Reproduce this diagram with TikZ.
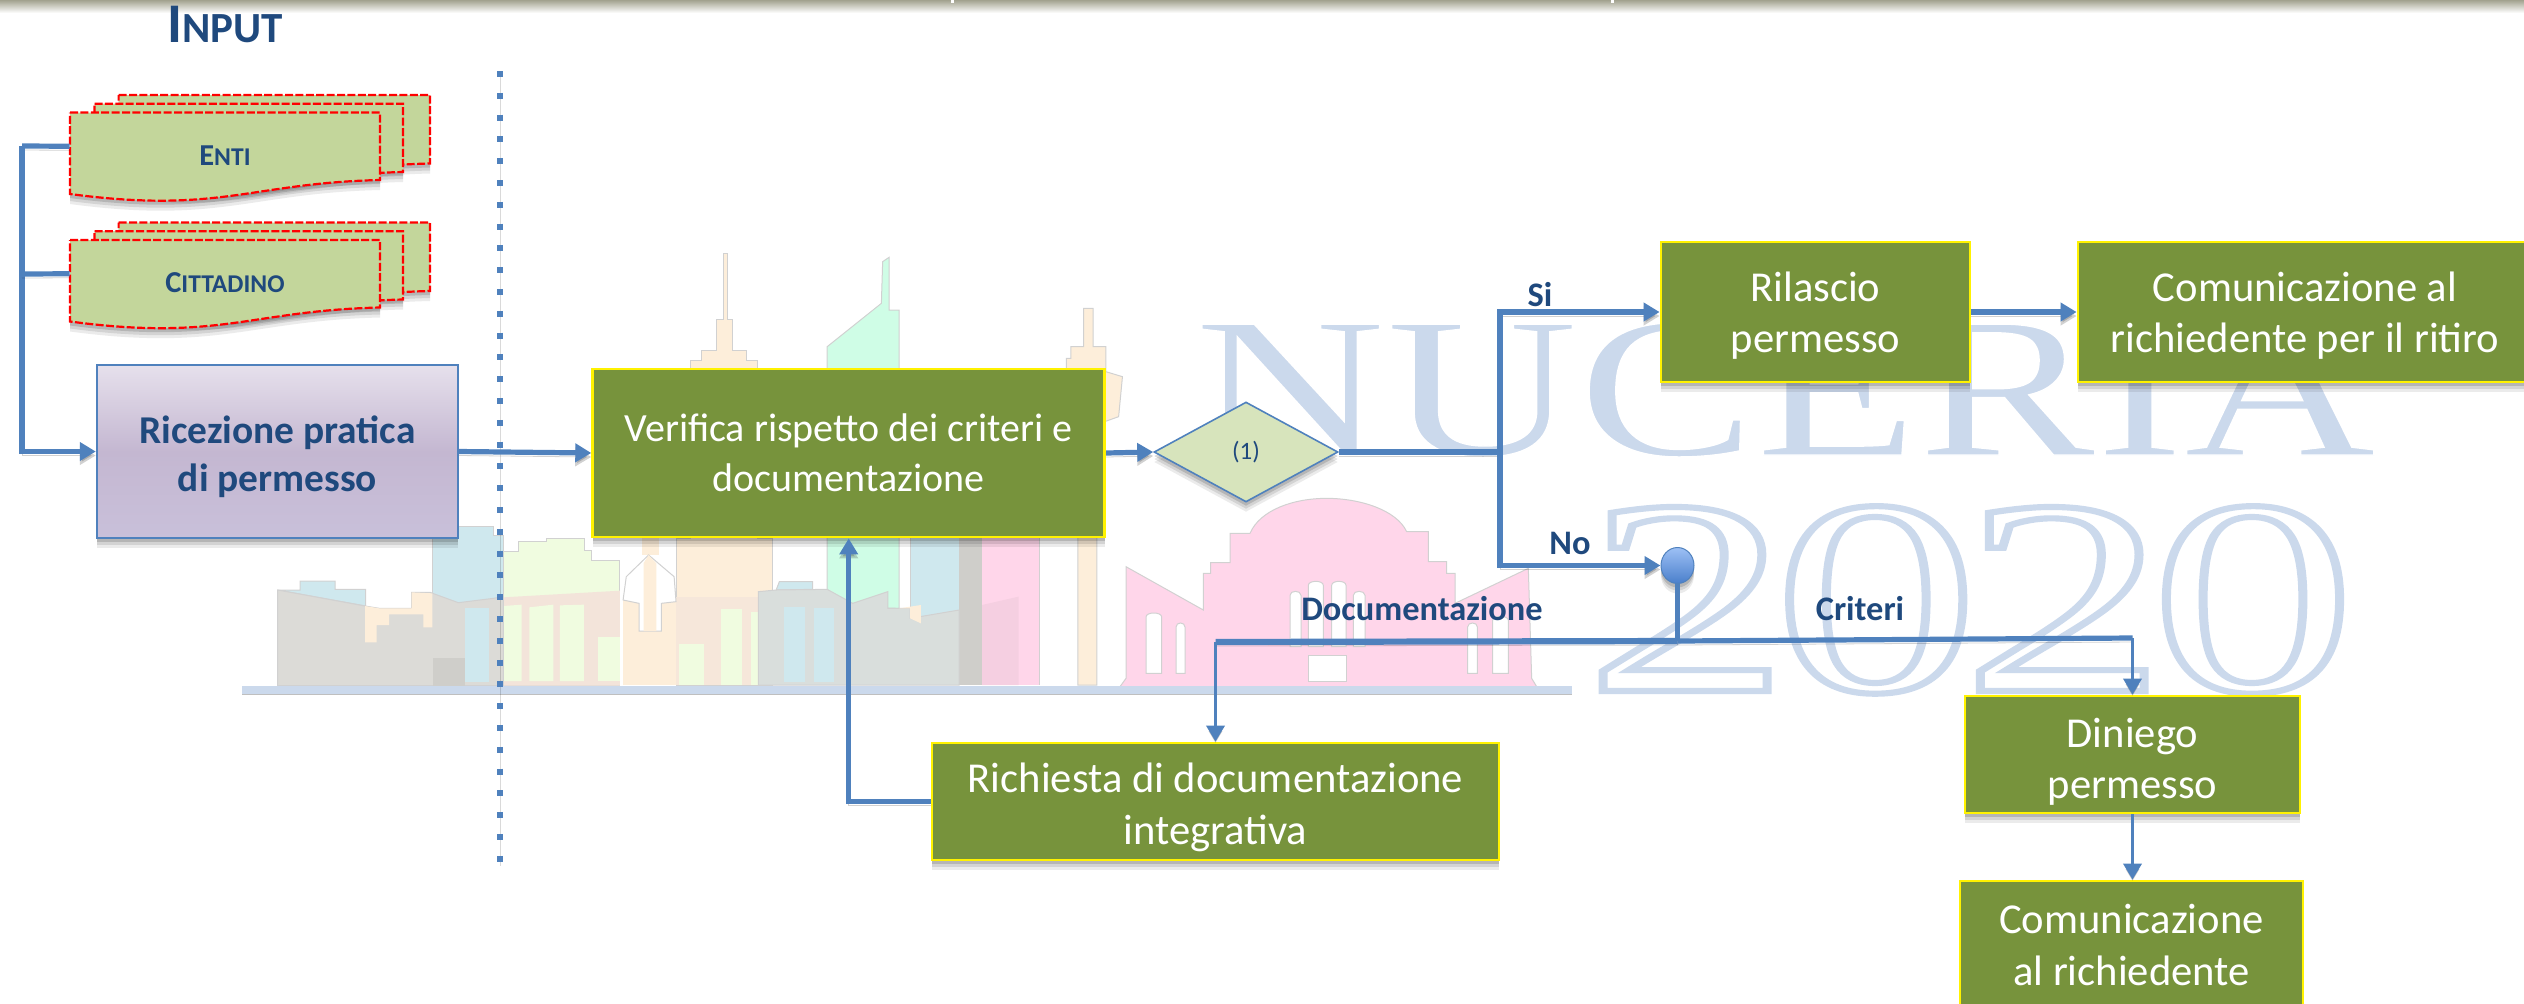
\documentclass[tikz,border=0pt]{standalone}
\usepackage{fontspec}
\usepackage{graphicx}
\usetikzlibrary{arrows.meta,shadows,shapes.geometric}
\setmainfont{Carlito}
\newfontfamily\wmfont[FakeBold=0.7]{Liberation Serif}
\newfontfamily\wmoutline[FakeBold=2.2,LetterSpace=-3.9]{Liberation Serif}
\definecolor{navy}{HTML}{1F497D}
\definecolor{flow}{HTML}{4F81BD}
\definecolor{olive}{HTML}{77933C}
\definecolor{docfill}{HTML}{C3D69B}
\definecolor{wm}{HTML}{CBD9EC}
\definecolor{skyblue}{HTML}{CFE8EE}
\definecolor{skypeach}{HTML}{FDEEDA}
\definecolor{skygreen}{HTML}{F0FCE0}
\definecolor{skymint}{HTML}{CFFDE6}
\definecolor{skypink}{HTML}{FFD6EA}
\definecolor{skygray}{HTML}{DCDBD7}
\definecolor{skyrose}{HTML}{F3E4DA}
\definecolor{bandtop}{HTML}{A2A28E}
\definecolor{purpletop}{HTML}{E6E0EC}
\definecolor{purplemid}{HTML}{C4B7D1}
\definecolor{purplebot}{HTML}{C9C0DA}
\definecolor{decfill}{HTML}{D7E4BC}
\definecolor{balltop}{HTML}{9DC0F5}
\definecolor{ballbot}{HTML}{4A7FCB}
\tikzset{
  softshadow/.style={
    drop shadow={shadow xshift=0pt,shadow yshift=-5pt,opacity=.08,fill=black},
    drop shadow={shadow xshift=0pt,shadow yshift=-3.5pt,opacity=.1,fill=black},
    drop shadow={shadow xshift=0pt,shadow yshift=-2pt,opacity=.14,fill=black}},
  greenbox/.style={rectangle,fill=olive,draw=yellow,line width=1.4pt,text=white,align=center,inner sep=0pt,
    font=\fontsize{21.3pt}{25.7pt}\selectfont,softshadow},
  purplebox/.style={rectangle,draw=flow,line width=1.2pt,top color=purpletop,bottom color=purplebot,middle color=purplemid,
    text=navy,align=center,inner sep=0pt,font=\fontsize{19.7pt}{24pt}\selectfont\bfseries,softshadow},
  decision/.style={diamond,aspect=1.85,fill=decfill,draw=flow,line width=.8pt,text=navy,inner sep=0pt,
    minimum width=92pt,minimum height=50pt,font=\fontsize{12.5pt}{14pt}\selectfont,softshadow},
  ballnode/.style={ellipse,draw=flow,line width=.5pt,top color=balltop,bottom color=ballbot,
    minimum width=16.5pt,minimum height=18pt,inner sep=0pt,softshadow},
  doclabel/.style={text=navy,font=\bfseries,inner sep=0pt},
  branchlabel/.style={text=navy,font=\fontsize{17.2pt}{19pt}\selectfont\bfseries,inner sep=0pt},
  anchorbox/.style={rectangle,inner sep=0pt},
  sheet/.style={fill=docfill,draw=red,line width=1.1pt,dash pattern=on 4pt off 1.2pt,softshadow},
  flowline/.style={draw=flow,line width=2.6pt,preaction={draw=black,opacity=.18,transform canvas={yshift=-2pt}}},
  heavyline/.style={draw=flow,line width=3.1pt,preaction={draw=black,opacity=.18,transform canvas={yshift=-2pt}}},
  thinline/.style={draw=flow,line width=1.8pt,preaction={draw=black,opacity=.15,transform canvas={yshift=-2pt}}},
  tip/.style={-{Triangle[length=8pt,width=9pt]}},
  sky/.style={draw=black!18,line width=.5pt},
  skyflat/.style={draw=none},
}
\newcommand{\sheetpath}[4]{% x1 y1 x2 y2
  \path[sheet] (#1,#2) -- (#3,#2) -- (#3,#4)
    .. controls ({#3-130},{#4+3}) and ({#1+150},{#4+34}) .. (#1,{#4+14}) -- cycle;}
\newcommand{\docstack}[3]{% name, y of the front sheet's top, label
  \sheetpath{118.6}{#2-17.5}{430}{#2+51}
  \sheetpath{94.5}{#2-8.8}{403}{#2+59.5}
  \sheetpath{70}{#2}{380}{#2+67.5}
  \node[anchorbox,minimum width=155pt,minimum height=33.75pt] (#1) at (225,{#2+33.75}) {};
  \node[doclabel] (#1label) at (225,{#2+43}) {#3};}
\newcommand{\bigsmall}[2]{{\fontsize{15.2pt}{16pt}\selectfont #1}{\fontsize{12.8pt}{16pt}\selectfont #2}}
\begin{document}
\begin{tikzpicture}[x=0.5pt,y=-0.5pt]
\useasboundingbox (0,0) rectangle (2524,1003);
% top band
\shade[top color=bandtop,bottom color=white] (0,0) rectangle (2524,13);
\fill[white] (951,0) rectangle (954,3);
\fill[white] (1611,0) rectangle (1614,3);
% --- watermark: skyline, left part
\begin{scope}[shift={(220,520)},scale=0.33333]
  \path[sky,fill=skyblue] (638,497) -- (638,20) -- (820,20) -- (820,45) -- (850,45) -- (850,497) -- cycle;
  \path[sky,fill=skyblue] (173,210) -- (240,210) -- (240,183) -- (345,183) -- (345,208) -- (437,208) -- (437,258) -- cycle;
  \path[sky,fill=skygreen] (850,95) -- (895,95) -- (895,65) -- (980,65) -- (980,55) -- (1095,55) -- (1095,90) -- (1115,90) -- (1115,122) -- (1200,122) -- (1200,497) -- (850,497) -- cycle;
  \path[skyflat,fill=skyrose] (850,232) -- (1200,212) -- (1200,497) -- (850,497) -- cycle;
  \path[skyflat,fill=skygreen] (850,258) -- (905,254) -- (905,483) -- (850,483) -- cycle;
  \path[skyflat,fill=skygreen] (928,262) -- (1000,254) -- (1000,483) -- (928,483) -- cycle;
  \path[skyflat,fill=skygreen] (1020,256) -- (1092,254) -- (1092,483) -- (1020,483) -- cycle;
  \path[skyflat,fill=skygreen] (1135,350) -- (1200,350) -- (1200,483) -- (1135,483) -- cycle;
  \path[sky,fill=skygray] (173,497) -- (173,210) -- (435,258) -- (478,265) -- (575,265) -- (575,217) -- (630,217) -- (715,248) -- (820,235) -- (850,230) -- (850,497) -- cycle;
  \path[skyflat,fill=skypeach] (435,258) -- (478,265) -- (575,265) -- (575,217) -- (637,220) -- (637,322) -- (610,322) -- (610,283) -- (507,283) -- (507,315) -- (470,315) -- (470,367) -- (435,367) -- cycle;
  \path[skyflat,fill=skyblue] (735,263) rectangle (808,485);
  \path[skyflat,fill=skygray!94!black] (638,415) rectangle (735,497);
\end{scope}
% --- watermark: skyline, centre
\begin{scope}[shift={(250,230)},xscale=0.63776,yscale=0.33333]
  \path[sky,fill=skymint] (905,1130) -- (905,350) -- (990,220) -- (992,95) -- (1002,82) -- (1002,240) -- (1018,240) -- (1018,1135) -- cycle;
  \path[sky,fill=skypeach] (668,1365) -- (668,925) -- (690,925) -- (690,390) -- (708,390) -- (708,360) -- (732,360) -- (732,268) -- (742,268) -- (742,70) -- (748,70) -- (748,268) -- (757,268) -- (757,360) -- (778,360) -- (778,390) -- (795,390) -- (795,925) -- (820,925) -- (820,1365) -- cycle;
  \path[skyflat,fill=skyrose!70!skypeach] (668,1100) rectangle (797,1365);
  \path[skyflat,fill=skygreen] (673,1243) rectangle (712,1365);
  \path[skyflat,fill=skygreen] (738,1138) rectangle (772,1365);
  \path[skyflat,fill=skygreen] (785,1145) rectangle (797,1365);
  \path[sky,fill=skypeach] (1298,1365) -- (1298,900) -- (1280,420) -- (1280,385) -- (1287,385) -- (1287,350) -- (1307,350) -- (1307,235) -- (1322,235) -- (1322,350) -- (1342,350) -- (1342,425) -- (1368,440) -- (1362,560) -- (1340,575) -- (1328,900) -- (1328,1365) -- cycle;
  \path[skyflat,fill=skyblue] (1035,925) rectangle (1112,1365);
  \path[skyflat,fill=skygray!94!black] (1112,925) rectangle (1148,1365);
  \path[skyflat,fill=skypink] (1148,925) rectangle (1238,1365);
  \path[skyflat,fill=skypink!92!gray] (1148,1125) -- (1205,1100) -- (1205,1365) -- (1148,1365) -- cycle;
  \draw[black!18,line width=.5pt] (1238,925) -- (1238,1365) (1035,925) -- (1035,1135);
  % lower block with the rocket
  \path[skyflat,fill=skypeach] (585,1100) rectangle (668,1365);
  \path[skyflat,fill=skypeach] (615,925) rectangle (642,975);
  \path[sky,fill=white] (590,1040) -- (625,975) -- (665,1040) -- (668,1115) -- (645,1120) -- (645,1203) -- (610,1203) -- (610,1120) -- (585,1110) -- cycle;
  \path[skyflat,fill=skypeach] (617,1000) -- (625,975) -- (637,1000) -- (637,1203) -- (617,1203) -- cycle;
  % grey blocks
  \path[sky,fill=skyblue] (825,1080) -- (830,1055) -- (882,1055) -- (882,1078) -- cycle;
  \path[sky,fill=skygray!80!skyblue] (797,1085) -- (825,1080) -- (905,1078) -- (945,1120) -- (1000,1085) -- (1000,1135) -- (1035,1135) -- (1035,1165) -- (1112,1140) -- (1112,1365) -- (797,1365) -- cycle;
  \path[skyflat,fill=skypeach] (1018,1135) -- (1052,1125) -- (1052,1180) -- (1035,1165) -- (1035,1135) -- cycle;
  \path[skyflat,fill=skyblue] (838,1130) rectangle (870,1355);
  \path[skyflat,fill=skyblue] (885,1135) rectangle (915,1355);
\end{scope}
% --- watermark: pink building
\begin{scope}[shift={(1120,490)},scale=0.33333]
  \path[sky,fill=skypink] (0,590) -- (18,565) -- (18,230) -- (250,360) -- (250,250) -- (272,250) -- (272,218) -- (330,218) -- (330,130) -- (390,130)
     .. controls (420,60) and (520,25) .. (620,25) .. controls (720,25) and (830,60) .. (860,125)
     -- (925,125) -- (925,215) -- (980,215) -- (980,250) -- (1005,250) -- (1005,340) -- (1225,235) -- (1235,565) -- (1250,590) -- cycle;
  \foreach \xa/\xb/\ya/\yb in {78/125/365/550,168/195/395/550,510/543/300/470,565/610/270/470,635/678/270/470,700/735/300/470,1043/1072/395/550,1118/1165/375/550}
    \path[sky,fill=white] (\xa,\yb) -- (\xa,{\ya+16}) .. controls (\xa,\ya) and (\xb,\ya) .. (\xb,{\ya+16}) -- (\xb,\yb) -- cycle;
  \path[sky,fill=white] (565,497) rectangle (678,575);
\end{scope}
% base line of the skyline
\fill[wm] (242,686) rectangle (1572,694);
\draw[black!25,line width=.4pt] (242,694.5) -- (1572,694.5);
% --- watermark: lettering
\node[anchor=base,inner sep=0pt,font=\wmfont\fontsize{100pt}{100pt}\selectfont] (wmname) at (1785,455)
  {\special{pdf:bc [0.796 0.851 0.925] [1 1 1]}\scalebox{1.33}[1]{NUCERIA}\special{pdf:ec}};
\node[anchor=base,inner sep=0pt,font=\wmoutline\fontsize{139pt}{142pt}\selectfont] (wmyear) at (1970,691)
  {\special{pdf:bc [1 1 1] [0.796 0.851 0.925]}\scalebox{1.47}[1]{2020}\special{pdf:ec}};
% --- dotted separator
\coordinate (septop) at (500,71);
\coordinate (sepbot) at (500,862);
\draw[flow,line width=3pt,dash pattern=on 3pt off 7.9pt,preaction={draw=black,opacity=.15,transform canvas={yshift=-2pt}}] (septop) -- (sepbot);
% --- title and input documents
\node[text=navy,inner sep=0pt,anchor=base,font=\bfseries] (title) at (225,42)
  {{\fontsize{28pt}{28pt}\selectfont I}{\fontsize{21.5pt}{28pt}\selectfont NPUT}};
\docstack{enti}{112.5}{\bigsmall{E}{NTI}}
\docstack{citt}{240}{\bigsmall{C}{ITTADINO}}
% --- process nodes
\node[purplebox,minimum width=180.5pt,minimum height=86.5pt] (ric) at (277.5,451.5) {\rule{0pt}{19pt}Ricezione pratica\\di permesso};
\node[greenbox,font=\fontsize{20pt}{25pt}\selectfont,minimum width=256pt,minimum height=84pt] (ver) at (848.7,453) {Verifica rispetto dei criteri e\\documentazione};
\node[decision] (dia) at (1246,452) {(1)};
\node[greenbox,minimum width=154.5pt,minimum height=70pt] (ril) at (1815.5,312) {\rule{0pt}{18.5pt}Rilascio\\permesso};
\node[greenbox,minimum width=227pt,minimum height=70pt] (comone) at (2305,312) {\rule{0pt}{18.5pt}Comunicazione al\\richiedente per il ritiro};
\node[ballnode] (ball) at (1677.5,565.5) {};
\node[greenbox,minimum width=283.5pt,minimum height=58.5pt] (rich) at (1215.5,801.5) {\rule{0pt}{20.5pt}Richiesta di documentazione\\integrativa};
\node[greenbox,minimum width=167.5pt,minimum height=58.5pt] (din) at (2132.5,754.5) {\rule{0pt}{22pt}Diniego\\permesso};
\node[greenbox,minimum width=171.5pt,minimum height=64pt] (comtwo) at (2131.5,945) {Comunicazione\\al richiedente};
% --- connector junctions
\coordinate (bus) at (22,146);
\coordinate (busmid) at (22,274);
\coordinate (branch) at (1500,452);
\coordinate (split) at (1677.5,641);
\coordinate (splitw) at (1215.5,642);
\coordinate (splite) at (2132.5,638);
% --- connectors
\draw[flowline] (enti.west) -- (bus);
\draw[flowline,tip] (bus) |- (ric.west);
\draw[flowline] (citt.west) -- (busmid);
\draw[flowline,tip] (ric.east) -- (ver.west);
\draw[flowline,tip] (ver.east) -- (dia.west);
\draw[heavyline] (dia.east) -- (branch);
\draw[flowline,tip] (branch) |- (ril.west);
\draw[flowline,tip] (branch) |- (ball.west);
\draw[flowline,tip] (ril.east) -- (comone.west);
\draw[flowline] (ball.south) -- (split);
\draw[heavyline] (split) -- (splitw);
\draw[flowline] (split) -- (splite);
\draw[thinline,tip] (splitw) -- (rich.north);
\draw[thinline,tip] (splite) -- (din.north);
\draw[thinline,tip] (din.south) -- (din.south |- comtwo.north);
\draw[flowline,tip] (rich.west) -| (ver.south);
% --- branch labels
\node[branchlabel] (lsi) at (1540,295) {Si};
\node[branchlabel] (lno) at (1570,543) {No};
\node[branchlabel] (ldoc) at (1422,609) {Documentazione};
\node[branchlabel] (lcri) at (1860,609) {Criteri};
\end{tikzpicture}
\end{document}
